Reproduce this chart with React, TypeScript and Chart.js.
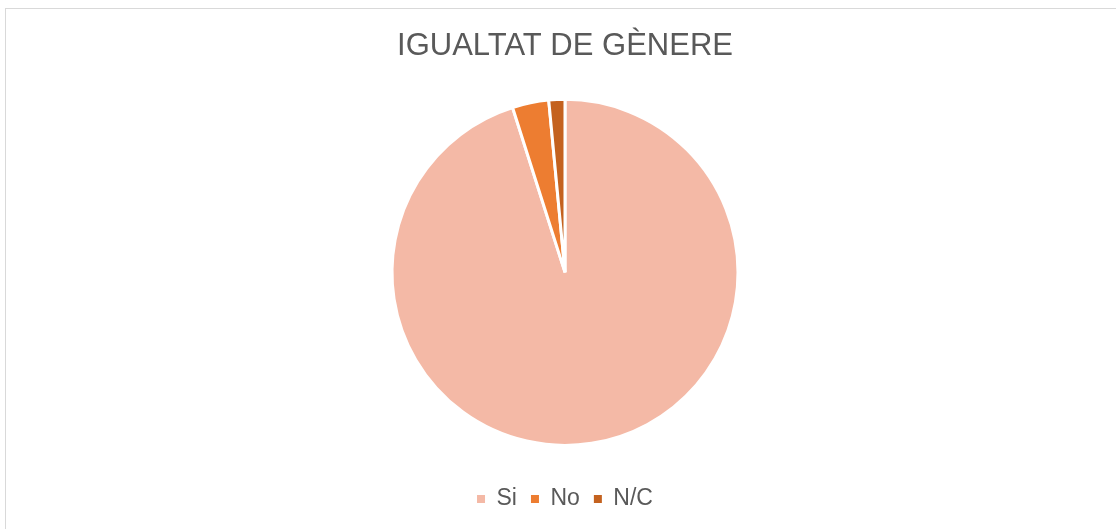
import React, { useEffect, useRef } from "react";
import { Chart, registerables } from "chart.js";

Chart.register(...registerables);

const titleText = "IGUALTAT DE GÈNERE";
const categories = ["Si", "No", "N/C"];
const values = [95.1, 3.4, 1.5];
const colors = ["#F4B9A6", "#ED7D31", "#C4621F"];

export default function App() {
  const ref = useRef<HTMLCanvasElement | null>(null);

  useEffect(() => {
    if (!ref.current) return;
    const chart = new Chart(ref.current, {
      type: "pie",
      data: {
        labels: categories,
        datasets: [
          {
            data: values,
            backgroundColor: colors,
            borderColor: "#ffffff",
            borderWidth: 3,
            radius: 173,
          },
        ],
      },
      options: {
        animation: false,
        responsive: true,
        maintainAspectRatio: false,
        layout: { padding: { top: 0, bottom: 8.5, left: 14, right: 0 } },
        plugins: {
          title: {
            display: true,
            text: titleText,
            color: "#595959",
            font: { family: "'Liberation Sans', Arial, sans-serif", size: 31, weight: "normal" },
            padding: { top: 28, bottom: 6 },
          },
          legend: {
            display: true,
            position: "bottom",
            labels: {
              color: "#595959",
              font: { family: "'Liberation Sans', Arial, sans-serif", size: 23 },
              boxWidth: 8,
              boxHeight: 8,
              padding: 14,
              generateLabels: (c: any) =>
                Chart.overrides.pie.plugins.legend.labels
                  .generateLabels(c)
                  .map((l: any) => ({ ...l, lineWidth: 0, strokeStyle: "rgba(0,0,0,0)" })),
            },
          },
          tooltip: { enabled: false },
        },
      },
    });
    return () => chart.destroy();
  }, []);

  return (
    <div
      style={{
        position: "fixed",
        left: 0,
        top: 0,
        width: 1116,
        height: 529,
        overflow: "hidden",
        background: "#ffffff",
      }}
    >
      <div
        style={{
          position: "absolute",
          left: 5,
          top: 8,
          width: 1200,
          height: 600,
          border: "1px solid #d9d9d9",
          boxSizing: "border-box",
        }}
      />
      <div style={{ position: "absolute", left: 0, top: 0, width: 1116, height: 529 }}>
        <canvas ref={ref} />
      </div>
    </div>
  );
}
